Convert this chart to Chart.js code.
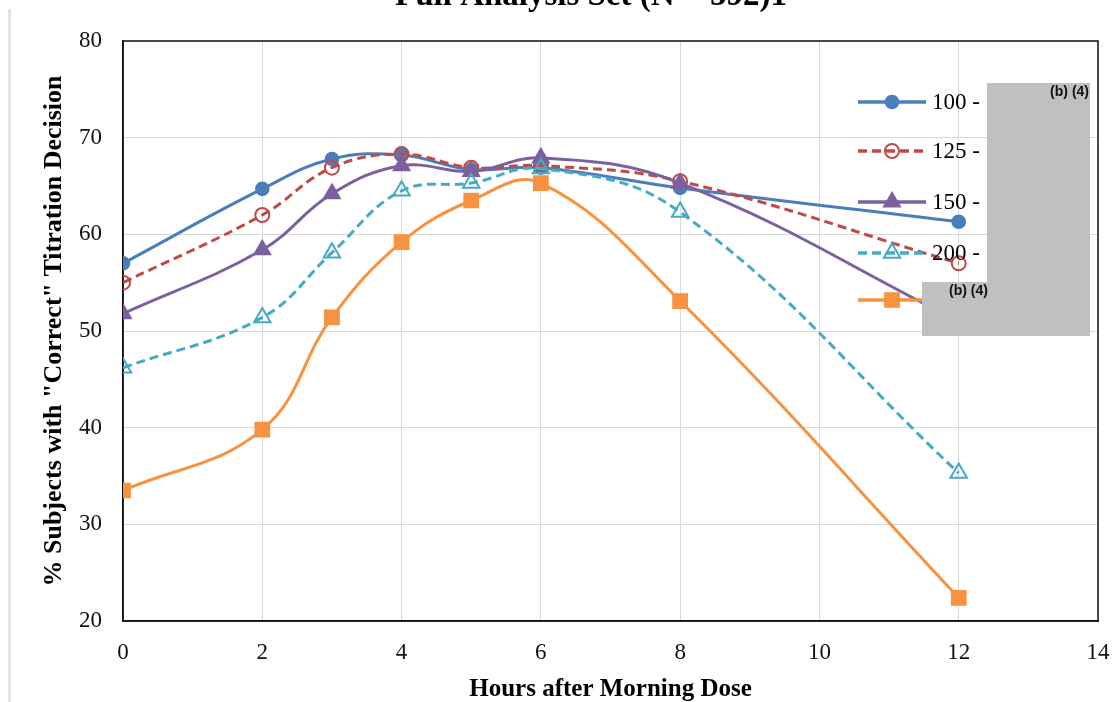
<!DOCTYPE html>
<html>
<head>
<meta charset="utf-8">
<script src="https://cdn.jsdelivr.net/npm/chart.js@4.4.1/dist/chart.umd.min.js"></script>
<style>
  body { margin: 0; background: #fff; }
  #wrap { width: 1112px; height: 702px; }
</style>
</head>
<body>
<div id="wrap"><canvas id="chartcontainer" width="1112" height="702"></canvas></div>
<script>
// hours after the morning dose
var hours = [0, 2, 3, 4, 5, 6, 8, 12];

// % subjects with "correct" titration decision, per dose group
var dose100 = [57.0, 64.7, 67.8, 68.2, 66.7, 66.9, 64.8, 61.3];
var dose125 = [55.0, 62.0, 66.9, 68.3, 66.9, 67.1, 65.5, 57.0];
var dose150 = [51.8, 58.4, 64.2, 67.1, 66.5, 67.9, 65.3, 51.0];
var dose200 = [46.2, 51.4, 58.1, 64.5, 65.3, 66.8, 62.3, 35.3];
var doseRedacted = [33.5, 39.8, 51.4, 59.2, 63.5, 65.3, 53.1, 22.4];

var legendLabels = ['100 -', '125 -', '150 -', '200 -', ''];
var xTicks = [0, 2, 4, 6, 8, 10, 12, 14];
var yTicks = [20, 30, 40, 50, 60, 70, 80];

function pts(vals) {
  return hours.map(function (h, i) { return { x: h, y: vals[i] }; });
}

function series(label, vals, color, style, radius, filled, dash, order) {
  return {
    label: label,
    data: pts(vals),
    borderColor: color,
    backgroundColor: color,
    borderWidth: 3,
    borderDash: dash,
    tension: 0.4,
    pointStyle: style,
    pointRadius: radius,
    pointBorderWidth: filled ? 1.6 : 2,
    pointBorderColor: color,
    pointBackgroundColor: filled ? color : 'rgba(0,0,0,0)',
    order: order
  };
}

function marker(ctx, ds, x, y) {
  var r = ds.pointRadius;
  ctx.save();
  ctx.setLineDash([]);
  ctx.lineWidth = ds.pointBorderWidth;
  ctx.strokeStyle = ds.pointBorderColor;
  ctx.fillStyle = ds.pointBackgroundColor;
  ctx.beginPath();
  if (ds.pointStyle === 'circle') {
    ctx.arc(x, y, r, 0, Math.PI * 2);
  } else if (ds.pointStyle === 'triangle') {
    ctx.moveTo(x, y - r);
    ctx.lineTo(x + r * 0.866, y + r * 0.5);
    ctx.lineTo(x - r * 0.866, y + r * 0.5);
    ctx.closePath();
  } else {
    var s = r * Math.SQRT1_2;
    ctx.rect(x - s, y - s, 2 * s, 2 * s);
  }
  ctx.fill();
  ctx.stroke();
  ctx.restore();
}

var extras = {
  id: 'extras',
  beforeDatasetsDraw: function (chart) {
    var ctx = chart.ctx, a = chart.chartArea;
    ctx.save();
    ctx.strokeStyle = '#111';
    ctx.lineWidth = 1.5;
    ctx.strokeRect(a.left, a.top, a.right - a.left, a.bottom - a.top);
    ctx.restore();
  },
  afterDraw: function (chart) {
    var ctx = chart.ctx, a = chart.chartArea;
    ctx.save();
    // page edge
    ctx.fillStyle = '#e4e4e4';
    ctx.fillRect(8, 9, 3, 702);
    // cut-off title
    ctx.fillStyle = '#000';
    ctx.font = 'bold 33px "Liberation Serif"';
    ctx.textAlign = 'center';
    ctx.textBaseline = 'alphabetic';
    ctx.fillText('Full Analysis Set (N = 592)1', 591, 5);

    // legend inside the plot
    var rows = [102, 151, 202, 253, 300];
    var x0 = a.right - 240, x1 = a.right - 172;
    chart.data.datasets.forEach(function (ds, i) {
      var y = rows[i];
      ctx.save();
      ctx.strokeStyle = ds.borderColor;
      ctx.lineWidth = 3.5;
      ctx.setLineDash(ds.borderDash);
      ctx.beginPath();
      ctx.moveTo(x0, y);
      ctx.lineTo(x1, y);
      ctx.stroke();
      ctx.restore();
      marker(ctx, ds, (x0 + x1) / 2, y);
      ctx.fillStyle = '#000';
      ctx.font = '23px "Liberation Serif"';
      ctx.textAlign = 'left';
      ctx.textBaseline = 'middle';
      ctx.fillText(legendLabels[i], x1 + 6, y + 1);
    });

    // redaction boxes
    ctx.fillStyle = '#c0c0c0';
    ctx.fillRect(987, 83, 103, 253);
    ctx.fillRect(922, 282, 65, 54);
    ctx.fillStyle = '#111';
    ctx.font = 'bold 14px "Liberation Sans"';
    ctx.textBaseline = 'middle';
    ctx.textAlign = 'right';
    ctx.fillText('(b) (4)', 1089, 92);
    ctx.textAlign = 'left';
    ctx.fillText('(b) (4)', 949, 291);
    ctx.restore();
  }
};

var ctx = document.getElementById('chartcontainer');
var chartcontainer = new Chart(ctx, {
  type: 'line',
  data: {
    datasets: [
      series('100', dose100, '#4A7EBB', 'circle', 6.5, true, [], 5),
      series('125', dose125, '#BE4B48', 'circle', 7, false, [9, 5], 4),
      series('150', dose150, '#7D60A0', 'triangle', 9.5, true, [], 3),
      series('200', dose200, '#46AAC5', 'triangle', 9.5, false, [9, 5], 2),
      series('(b) (4)', doseRedacted, '#F69240', 'rect', 10, true, [], 1)
    ]
  },
  options: {
    responsive: false,
    animation: false,
    layout: { padding: { top: 41, right: 14, left: 0, bottom: 0 } },
    scales: {
      x: {
        type: 'linear',
        min: 0,
        max: 14,
        afterFit: function (s) { s.height = 81; s.paddingLeft = 0; s.paddingRight = 0; },
        afterBuildTicks: function (s) { s.ticks = xTicks.map(function (v) { return { value: v }; }); },
        ticks: { font: { family: 'Liberation Serif', size: 23 }, color: '#111', padding: 18 },
        grid: { color: '#d9d9d9', drawTicks: false },
        border: { color: '#111', width: 1.5 },
        title: {
          display: true,
          text: 'Hours after Morning Dose',
          color: '#000',
          font: { family: 'Liberation Serif', size: 25, weight: 'bold', lineHeight: 1 },
          padding: { top: 0, bottom: 0 }
        }
      },
      y: {
        min: 20,
        max: 80,
        afterFit: function (s) { s.width = 123; },
        afterBuildTicks: function (s) { s.ticks = yTicks.map(function (v) { return { value: v }; }); },
        ticks: { font: { family: 'Liberation Serif', size: 23 }, color: '#111', padding: 21 },
        grid: { color: '#d9d9d9', drawTicks: false },
        border: { color: '#111', width: 1.5 },
        title: {
          display: true,
          text: '% Subjects with "Correct" Titration Decision',
          color: '#000',
          font: { family: 'Liberation Serif', size: 26, weight: 'bold', lineHeight: 1 },
          padding: { top: 41, bottom: 0 }
        }
      }
    },
    plugins: {
      legend: { display: false },
      tooltip: { enabled: false }
    }
  },
  plugins: [extras]
});
</script>
</body>
</html>
